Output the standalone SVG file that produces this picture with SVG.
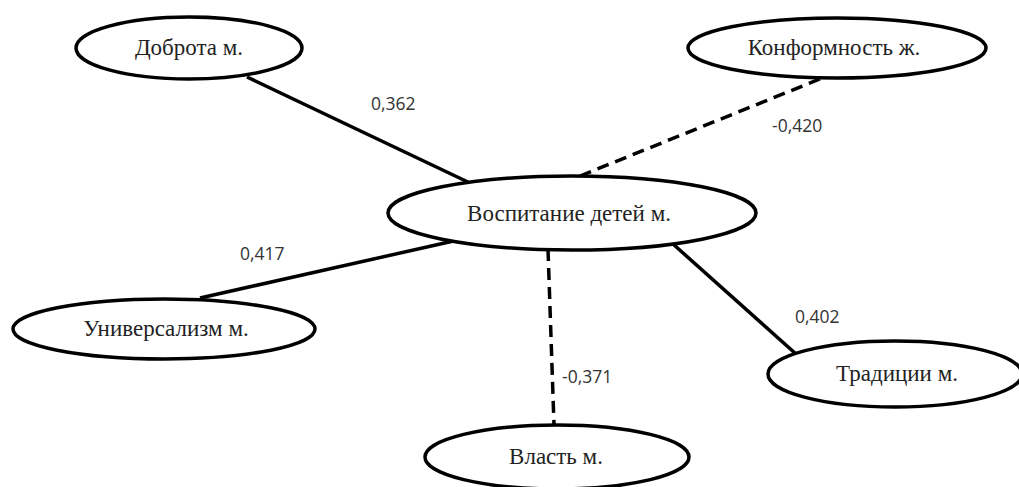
<svg xmlns="http://www.w3.org/2000/svg" width="1019" height="487" viewBox="0 0 1019 487">
<style>
.node ellipse{fill:#fff;stroke:#000;stroke-width:3.5}
.node text{font-family:"Liberation Serif","Times New Roman",serif;font-size:23px;fill:#222;text-anchor:middle}
.edge{stroke:#000;stroke-width:3.5;fill:none}
.dash{stroke-dasharray:12 7}
.lbl{font-family:"Open Sans","Liberation Sans",sans-serif;font-size:17.5px;fill:#333}
</style>
<rect width="1019" height="487" fill="#fff"/>
<g id="connectors">
<line class="edge" x1="247" y1="77" x2="470" y2="183"/>
<line class="edge dash" x1="820" y1="79" x2="580" y2="176"/>
<line class="edge" x1="200" y1="298" x2="458" y2="240"/>
<line class="edge" x1="673" y1="244" x2="796" y2="354"/>
<line class="edge dash" x1="548" y1="249" x2="554" y2="425"/>
<text class="lbl" x="371" y="110">0,362</text>
<text class="lbl" x="772" y="132">-0,420</text>
<text class="lbl" x="240" y="260">0,417</text>
<text class="lbl" x="795" y="323">0,402</text>
<text class="lbl" x="562" y="383">-0,371</text>
</g>
<g id="node-dobrota" class="node">
<ellipse cx="189" cy="48" rx="113" ry="31"/>
<text x="189" y="55">Доброта м.</text>
</g>
<g id="node-konformnost" class="node">
<ellipse cx="837" cy="48" rx="149" ry="30"/>
<text x="834" y="55">Конформность ж.</text>
</g>
<g id="node-vospitanie" class="node">
<ellipse cx="572" cy="213" rx="184" ry="37"/>
<text x="569" y="221">Воспитание детей м.</text>
</g>
<g id="node-universalizm" class="node">
<ellipse cx="164" cy="329" rx="151" ry="30"/>
<text x="166" y="336">Универсализм м.</text>
</g>
<g id="node-traditsii" class="node">
<ellipse cx="895" cy="374" rx="127" ry="33"/>
<text x="897" y="381">Традиции м.</text>
</g>
<g id="node-vlast" class="node">
<ellipse cx="557" cy="457" rx="132" ry="32"/>
<text x="556" y="464">Власть м.</text>
</g>
</svg>
